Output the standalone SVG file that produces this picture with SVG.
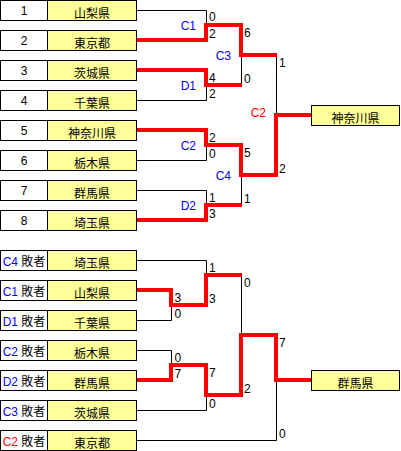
<svg xmlns="http://www.w3.org/2000/svg" width="401" height="451" viewBox="0 0 401 451">
<style>
.w{fill:#fff;stroke:#000;stroke-width:1}
.y{fill:#ffff99;stroke:#000;stroke-width:1}
.num{font-family:"Liberation Sans","Noto Sans CJK JP",sans-serif;font-size:12px;fill:#000;text-anchor:middle}
.nm{font-family:"Noto Sans CJK JP",sans-serif;font-size:12px;fill:#000;text-anchor:middle}
.sc{font-family:"Liberation Sans",sans-serif;font-size:12px;fill:#000}
.lb{font-family:"Liberation Sans",sans-serif;font-size:12px;fill:#0000ff;text-anchor:end}
.b{fill:#0000ff}
.r{fill:#ff0000}
.thin{fill:none;stroke:#000;stroke-width:1}
.red{fill:none;stroke:#ff0000;stroke-width:4;stroke-linejoin:miter}
</style>
<rect width="401" height="451" fill="#fff"/>
<g id="connectors">
<path class="thin" d="M136.5,10.5H206.5M136.5,40.5H206.5M136.5,70.5H206.5M136.5,100.5H206.5M136.5,130.5H206.5M136.5,160.5H206.5M136.5,190.5H206.5M136.5,220.5H206.5
M206.5,10.5V40.5M206.5,70.5V100.5M206.5,130.5V160.5M206.5,190.5V220.5
M206.5,25.5H241.5M206.5,85.5H241.5M206.5,145.5H241.5M206.5,205.5H241.5
M241.5,25.5V85.5M241.5,145.5V205.5M241.5,55.5H276.5M241.5,175.5H276.5M276.5,55.5V175.5M276.5,115.5H311.5"/>
<path class="thin" d="M136.5,260.5H206.5M136.5,290.5H171.5M136.5,320.5H171.5M136.5,350.5H171.5M136.5,380.5H171.5M136.5,410.5H206.5M136.5,440.5H276.5
M171.5,290.5V320.5M171.5,350.5V380.5M171.5,305.5H206.5M171.5,365.5H206.5
M206.5,260.5V305.5M206.5,365.5V410.5M206.5,275.5H241.5M206.5,395.5H241.5
M241.5,275.5V395.5M241.5,335.5H276.5M276.5,335.5V440.5M276.5,380.5H311.5"/>
<path class="red" d="M136.5,40H206V25H241V55H277"/>
<path class="red" d="M136.5,70H206V85H242"/>
<path class="red" d="M136.5,130H206V145H241V175H276V115H311.5"/>
<path class="red" d="M136.5,220H206V205H242"/>
<path class="red" d="M136.5,290H171V305H206V275H242"/>
<path class="red" d="M136.5,380H171V365H206V395H241V335H276V380H311.5"/>
</g>
<g id="scores">
<text class="sc" x="209" y="21">0</text>
<text class="sc" x="209" y="37.5">2</text>
<text class="sc" x="209" y="82">4</text>
<text class="sc" x="209" y="97.5">2</text>
<text class="sc" x="244" y="37">6</text>
<text class="sc" x="244" y="82.5">0</text>
<text class="sc" x="209" y="142">2</text>
<text class="sc" x="209" y="157.5">0</text>
<text class="sc" x="209" y="202">1</text>
<text class="sc" x="209" y="217.5">3</text>
<text class="sc" x="244" y="157">5</text>
<text class="sc" x="244" y="202.5">1</text>
<text class="sc" x="279" y="67">1</text>
<text class="sc" x="279" y="172.5">2</text>
<text class="sc" x="209" y="272">1</text>
<text class="sc" x="209" y="302.5">3</text>
<text class="sc" x="174.5" y="302">3</text>
<text class="sc" x="174.5" y="317.5">0</text>
<text class="sc" x="244" y="287">0</text>
<text class="sc" x="244" y="392.5">2</text>
<text class="sc" x="174.5" y="362">0</text>
<text class="sc" x="174.5" y="377.5">7</text>
<text class="sc" x="209" y="377">7</text>
<text class="sc" x="209" y="407.5">0</text>
<text class="sc" x="279" y="347">7</text>
<text class="sc" x="279" y="437.5">0</text>
</g>
<g id="match-labels">
<text class="lb" x="196" y="30">C1</text>
<text class="lb" x="196" y="90">D1</text>
<text class="lb" x="231" y="60">C3</text>
<text class="lb" x="196" y="149.5">C2</text>
<text class="lb" x="196" y="210">D2</text>
<text class="lb" x="231" y="180">C4</text>
<text class="lb" x="266" y="117" style="fill:#ff0000">C2</text>
</g>
<g id="t1"><rect class="w" x="0.5" y="0.5" width="47" height="20"/><rect class="y" x="47.5" y="0.5" width="89" height="20"/><text class="num" x="24" y="15">1</text><text class="nm" x="92" y="18">山梨県</text></g>
<g id="t2"><rect class="w" x="0.5" y="30.5" width="47" height="20"/><rect class="y" x="47.5" y="30.5" width="89" height="20"/><text class="num" x="24" y="45">2</text><text class="nm" x="92" y="48">東京都</text></g>
<g id="t3"><rect class="w" x="0.5" y="60.5" width="47" height="20"/><rect class="y" x="47.5" y="60.5" width="89" height="20"/><text class="num" x="24" y="75">3</text><text class="nm" x="92" y="78">茨城県</text></g>
<g id="t4"><rect class="w" x="0.5" y="90.5" width="47" height="20"/><rect class="y" x="47.5" y="90.5" width="89" height="20"/><text class="num" x="24" y="105">4</text><text class="nm" x="92" y="108">千葉県</text></g>
<g id="t5"><rect class="w" x="0.5" y="120.5" width="47" height="20"/><rect class="y" x="47.5" y="120.5" width="89" height="20"/><text class="num" x="24" y="135">5</text><text class="nm" x="92" y="138">神奈川県</text></g>
<g id="t6"><rect class="w" x="0.5" y="150.5" width="47" height="20"/><rect class="y" x="47.5" y="150.5" width="89" height="20"/><text class="num" x="24" y="165">6</text><text class="nm" x="92" y="168">栃木県</text></g>
<g id="t7"><rect class="w" x="0.5" y="180.5" width="47" height="20"/><rect class="y" x="47.5" y="180.5" width="89" height="20"/><text class="num" x="24" y="195">7</text><text class="nm" x="92" y="198">群馬県</text></g>
<g id="t8"><rect class="w" x="0.5" y="210.5" width="47" height="20"/><rect class="y" x="47.5" y="210.5" width="89" height="20"/><text class="num" x="24" y="225">8</text><text class="nm" x="92" y="228">埼玉県</text></g>
<g id="winner1"><rect class="y" x="311.5" y="105.5" width="88" height="20"/><text class="nm" x="355.5" y="123">神奈川県</text></g>
<g id="l1"><rect class="w" x="0.5" y="250.5" width="47" height="20"/><rect class="y" x="47.5" y="250.5" width="89" height="20"/><text class="num" x="24" y="266"><tspan class="b">C4</tspan> 敗者</text><text class="nm" x="92" y="268">埼玉県</text></g>
<g id="l2"><rect class="w" x="0.5" y="280.5" width="47" height="20"/><rect class="y" x="47.5" y="280.5" width="89" height="20"/><text class="num" x="24" y="296"><tspan class="b">C1</tspan> 敗者</text><text class="nm" x="92" y="298">山梨県</text></g>
<g id="l3"><rect class="w" x="0.5" y="310.5" width="47" height="20"/><rect class="y" x="47.5" y="310.5" width="89" height="20"/><text class="num" x="24" y="326"><tspan class="b">D1</tspan> 敗者</text><text class="nm" x="92" y="328">千葉県</text></g>
<g id="l4"><rect class="w" x="0.5" y="340.5" width="47" height="20"/><rect class="y" x="47.5" y="340.5" width="89" height="20"/><text class="num" x="24" y="356"><tspan class="b">C2</tspan> 敗者</text><text class="nm" x="92" y="358">栃木県</text></g>
<g id="l5"><rect class="w" x="0.5" y="370.5" width="47" height="20"/><rect class="y" x="47.5" y="370.5" width="89" height="20"/><text class="num" x="24" y="386"><tspan class="b">D2</tspan> 敗者</text><text class="nm" x="92" y="388">群馬県</text></g>
<g id="l6"><rect class="w" x="0.5" y="400.5" width="47" height="20"/><rect class="y" x="47.5" y="400.5" width="89" height="20"/><text class="num" x="24" y="416"><tspan class="b">C3</tspan> 敗者</text><text class="nm" x="92" y="418">茨城県</text></g>
<g id="l7"><rect class="w" x="0.5" y="430.5" width="47" height="20"/><rect class="y" x="47.5" y="430.5" width="89" height="20"/><text class="num" x="24" y="446"><tspan class="r">C2</tspan> 敗者</text><text class="nm" x="92" y="448">東京都</text></g>
<g id="winner2"><rect class="y" x="311.5" y="370.5" width="88" height="20"/><text class="nm" x="355.5" y="388">群馬県</text></g>
</svg>
